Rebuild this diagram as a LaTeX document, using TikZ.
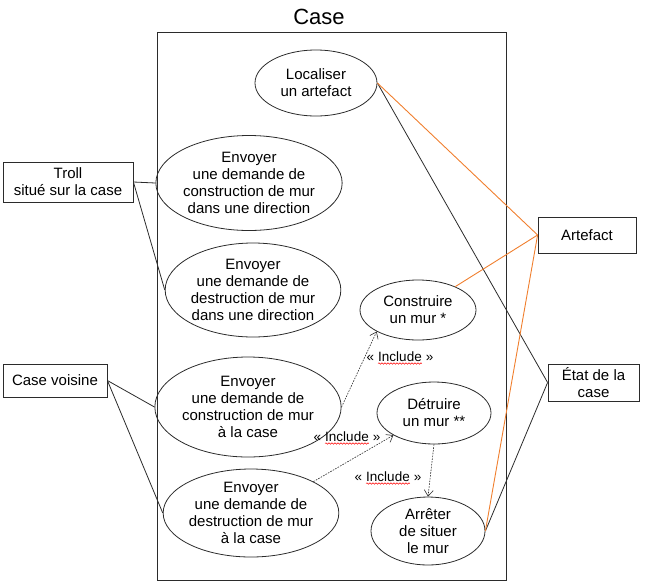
\documentclass[tikz,border=0pt]{standalone}
\usepackage{fontspec}
\setmainfont{Liberation Sans}
\usetikzlibrary{arrows.meta,shapes.geometric,decorations.pathmorphing}
\definecolor{ucorange}{HTML}{F07F2E}
\definecolor{ucgrey}{HTML}{2B2B2B}
\newcommand{\incl}{«~\tikz[baseline=(w.base)]{\node[inner sep=0pt] (w) {Include};
  \draw[red, line width=0.5pt, decorate,
        decoration={snake, amplitude=0.7pt, segment length=3pt}]
    ([yshift=-2.2pt]w.base west) -- ([yshift=-2.2pt]w.base east);}~»}

\begin{document}
\begin{tikzpicture}[
  x=1pt, y=-1pt,
  font=\fontsize{15}{17}\selectfont,
  usecase/.style={draw=ucgrey, ellipse, line width=0.8pt, align=center,
                  inner sep=0pt},
  actor/.style={draw=ucgrey, rectangle, line width=0.8pt, align=center,
                inner sep=0pt},
  assoc/.style={ucgrey, line width=0.8pt},
  link/.style={ucorange, line width=0.9pt},
  include/.style={ucgrey, line width=0.6pt, dash pattern=on 1.6pt off 1.2pt,
                  -{Straight Barb[length=6pt, width=9pt]}},
  inclabel/.style={inner sep=1pt, font=\fontsize{13.5}{15}\selectfont}]
\useasboundingbox (0,0) rectangle (645,582);

% ---------------- system boundary ----------------
\node[draw=ucgrey, line width=0.8pt, minimum width=349pt, minimum height=548pt,
      inner sep=0pt] (sys) at (331.5,306) {};
\node[font=\fontsize{22}{24}\selectfont] (title) at (319,17) {Case};

% ---------------- use cases ----------------
\node[usecase, minimum width=122pt, minimum height=66pt] (loc) at (316,83)
  {Localiser\\un artefact};
\node[usecase, minimum width=156pt, minimum height=95pt] (dircons) at (249,183)
  {Envoyer\\une demande de\\construction de mur\\dans une direction};
\node[usecase, minimum width=156pt, minimum height=94pt] (dirdest) at (253,290)
  {Envoyer\\une demande de\\destruction de mur\\dans une direction};
\node[usecase, minimum width=116pt, minimum height=60pt] (cons) at (418,310)
  {Construire\\un mur *};
\node[usecase, minimum width=150pt, minimum height=100pt] (casecons) at (248,407)
  {Envoyer\\une demande de\\construction de mur\\à la case};
\node[usecase, minimum width=114pt, minimum height=62pt] (det) at (434,413)
  {Détruire\\un mur **};
\node[usecase, minimum width=154pt, minimum height=88pt] (casedest) at (251,513)
  {Envoyer\\une demande de\\destruction de mur\\à la case};
\node[usecase, minimum width=114pt, minimum height=68pt] (arr) at (428,531)
  {Arrêter\\de situer\\le mur};

% ---------------- actors ----------------
\node[actor, minimum width=130pt, minimum height=40pt] (troll) at (68,182)
  {Troll\\situé sur la case};
\node[actor, minimum width=104pt, minimum height=33pt] (voisine) at (55,380.5)
  {Case voisine};
\node[actor, minimum width=98pt, minimum height=36pt] (art) at (587,235)
  {Artefact};
\node[actor, minimum width=91pt, minimum height=37pt] (etat) at (593.5,382.5)
  {État de la\\case};

% ---------------- associations ----------------
\foreach \a/\b in {troll.east/dircons.west, troll.east/dirdest.west,
                   voisine.east/casecons.west, voisine.east/casedest.west,
                   loc.east/etat.west, arr.east/etat.west}{
  \draw[assoc] (\a) -- (\b);}
\foreach \a in {loc.east, cons, arr.east}{
  \draw[link] (\a) -- (art.west);}

% ---------------- includes ----------------
\draw[include] (casecons.east) -- (cons.south west);
\draw[include] (casedest.north east) -- (det.south west);
\draw[include] (det.south) -- (arr.north);
\node[inclabel] (inc1) at (400,358) {\incl};
\node[inclabel] (inc2) at (347,438) {\incl};
\node[inclabel] (inc3) at (388,478) {\incl};
\end{tikzpicture}
\end{document}
